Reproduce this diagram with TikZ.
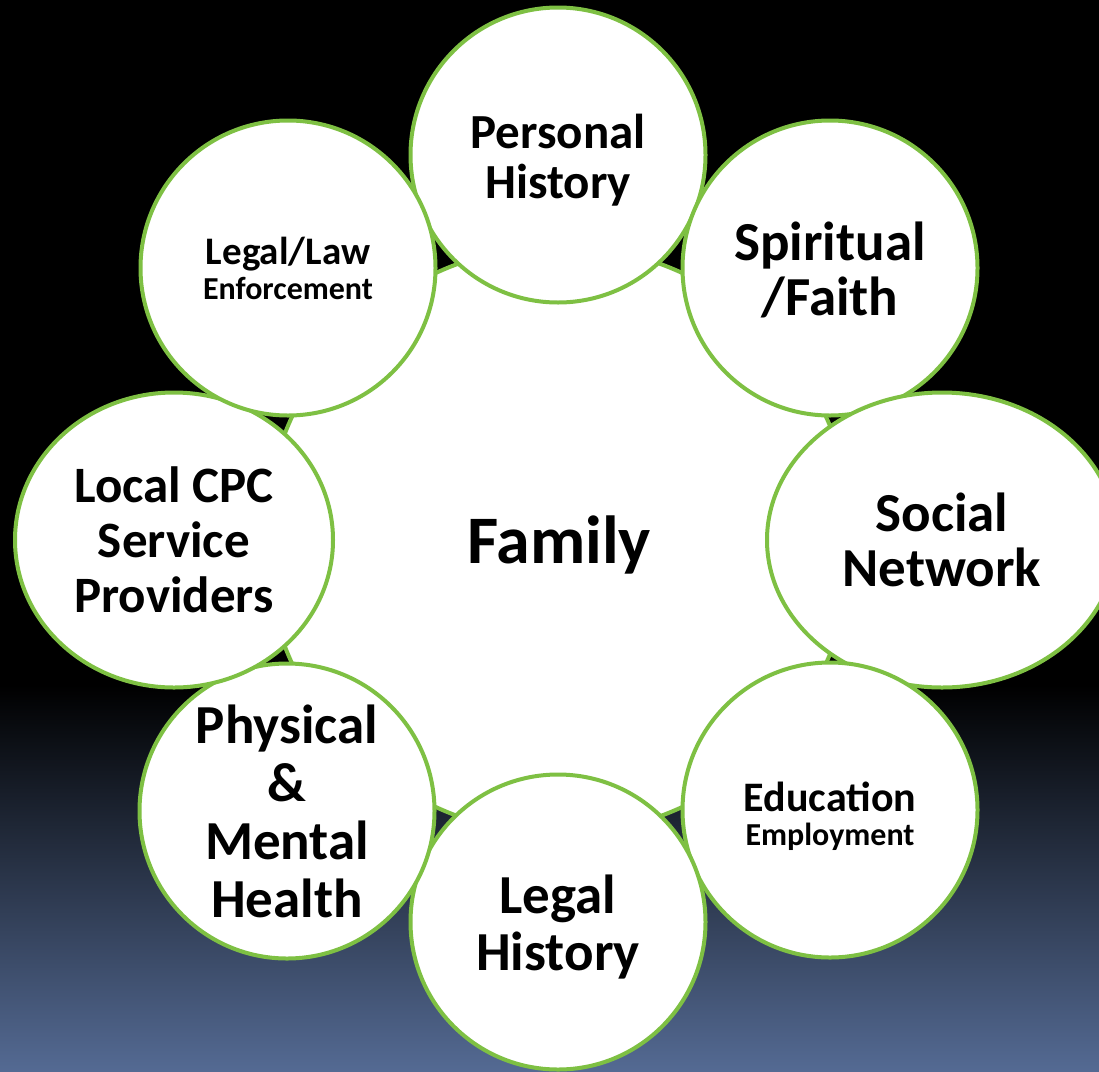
\documentclass[tikz,border=0pt]{standalone}
\usepackage{fontspec}
\setmainfont{Carlito}
\usetikzlibrary{shapes.geometric}
\definecolor{ringgreen}{RGB}{126,192,67}
\definecolor{bgblue}{RGB}{84,106,147}
\newcommand{\sz}[2]{\fontsize{#1}{#2}\selectfont}

\begin{document}
\begin{tikzpicture}[x=1pt,y=-1pt,
  ring/.style={circle,draw=ringgreen,line width=4pt,fill=white,inner sep=0pt,
    minimum size=295pt},
  oval/.style={ellipse,draw=ringgreen,line width=4pt,fill=white,inner sep=0pt,
    minimum height=295pt},
  txt/.style={align=center,inner sep=0pt}]
\useasboundingbox (0,0) rectangle (1099,1071);
\fill[black] (0,0) rectangle (1099,1071);
\shade[top color=black,bottom color=bgblue] (0,685) rectangle (1099,1071);
% centre
\node[ring,minimum size=588pt] (family) at (559,540) {};
\node[txt,font=\bfseries\sz{68}{70}] (family-t) at (559,545) {Family};
% outer ring, clockwise from the top
\node[ring] (personal) at (558,155) {};
\node[txt,font=\bfseries\sz{49}{50}] (personal-t) at (558,160) {Personal\\History};
\node[ring] (spiritual) at (830,268) {};
\node[txt,font=\bfseries\sz{55}{55}] (spiritual-t) at (830,270) {Spiritual\\/Faith};
\node[oval,minimum width=350pt] (social) at (942,540) {};
\node[txt,font=\bfseries\sz{55}{55}] (social-t) at (942,540) {Social\\Network};
\node[ring] (education) at (830,810) {};
\node[txt,font=\bfseries\sz{42}{34}] (education-t) at (830,816)
  {Education\\\sz{32}{34}Employment};
\node[ring] (legalhist) at (558,922) {};
\node[txt,font=\bfseries\sz{55}{57}] (legalhist-t) at (558,927) {Legal\\History};
\node[ring] (physical) at (287,811) {};
\node[txt,font=\bfseries\sz{55}{58}] (physical-t) at (287,811) {Physical\\\&\\Mental\\Health};
\node[oval,minimum width=318pt] (localcpc) at (174,540) {};
\node[txt,font=\bfseries\sz{51}{55}] (localcpc-t) at (174,540) {Local CPC\\Service\\Providers};
\node[ring] (legallaw) at (288,268) {};
\node[txt,font=\bfseries\sz{39}{35}] (legallaw-t) at (288,268) {Legal/Law\\\sz{32}{35}Enforcement};
\end{tikzpicture}
\end{document}
